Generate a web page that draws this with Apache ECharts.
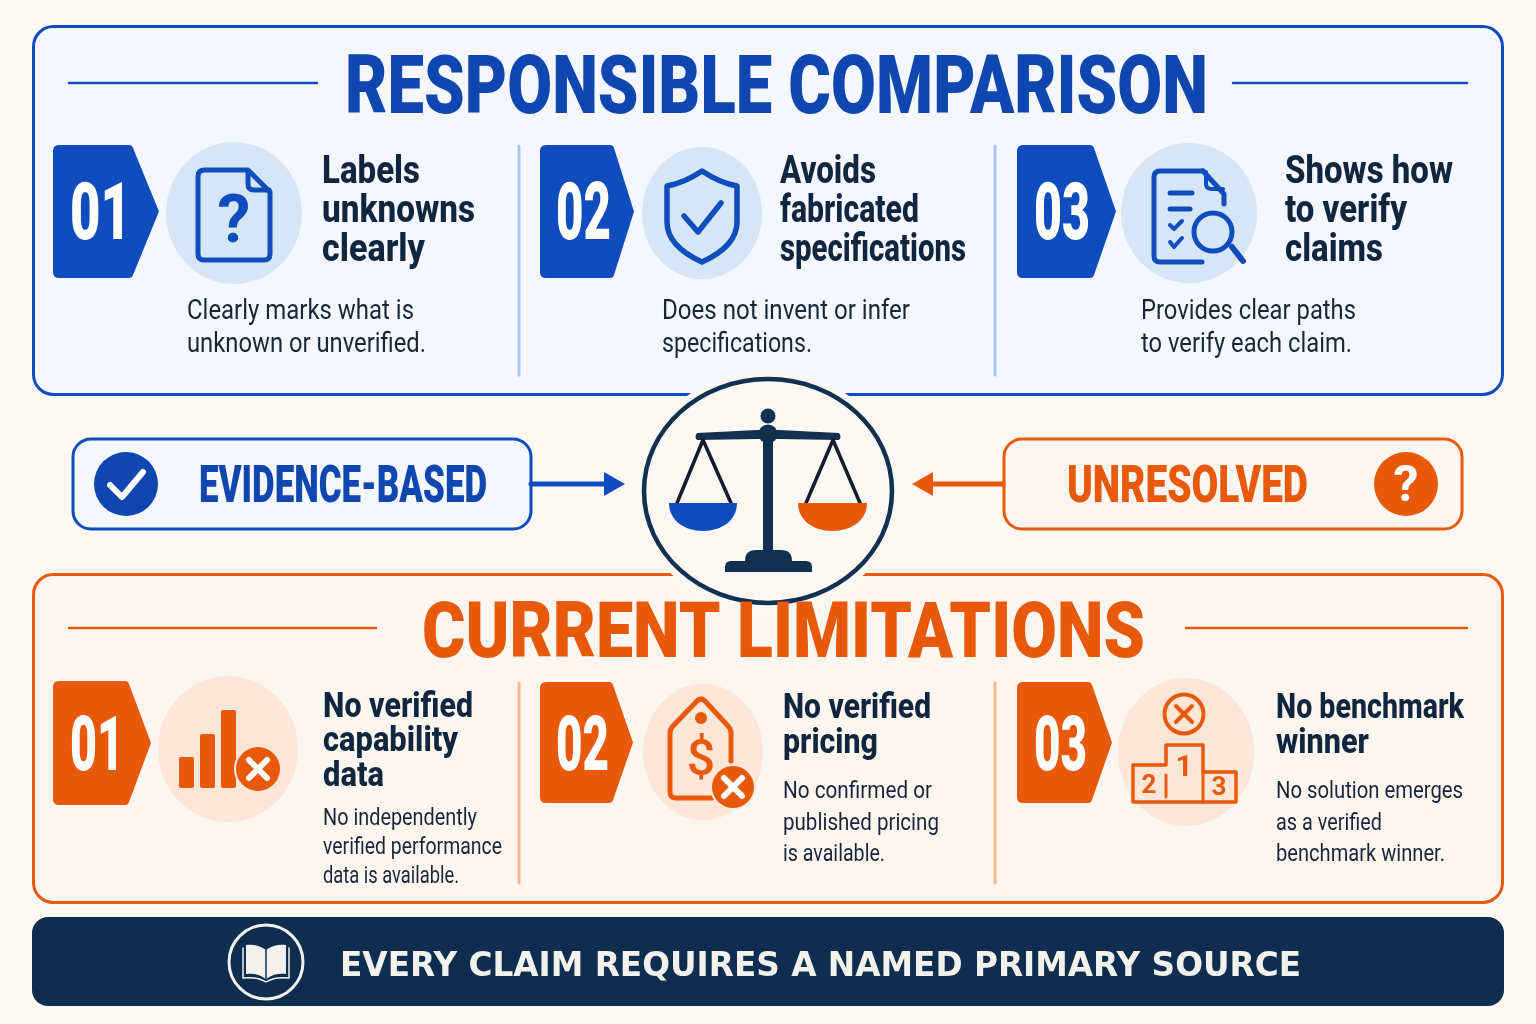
<!DOCTYPE html>
<html>
<head>
<meta charset="utf-8">
<title>Responsible comparison</title>
<script src="https://cdn.jsdelivr.net/npm/echarts@6/dist/echarts.min.js"></script>
<style>
html, body { margin: 0; padding: 0; background: #fbf8f4; }
#main { width: 1536px; height: 1024px; }
</style>
</head>
<body>
<div id="main"></div>
<script>
// texts
var stepNumbers = ['01', '02', '03'];
var topTitle = 'RESPONSIBLE COMPARISON';
var topHeads = [['Labels', 'unknowns', 'clearly'], ['Avoids', 'fabricated', 'specifications'], ['Shows how', 'to verify', 'claims']];
var topNotes = [['Clearly marks what is', 'unknown or unverified.'], ['Does not invent or infer', 'specifications.'], ['Provides clear paths', 'to verify each claim.']];
var leftBadge = 'EVIDENCE-BASED';
var rightBadge = 'UNRESOLVED';
var lowTitle = 'CURRENT LIMITATIONS';
var lowHeads = [['No verified', 'capability', 'data'], ['No verified', 'pricing'], ['No benchmark', 'winner']];
var lowNotes = [['No independently', 'verified performance', 'data is available.'], ['No confirmed or', 'published pricing', 'is available.'], ['No solution emerges', 'as a verified', 'benchmark winner.']];
var footerText = 'EVERY CLAIM REQUIRES A NAMED PRIMARY SOURCE';

// colours
var BLUE = '#0f4cbd', ORANGE = '#e8590c', NAVY = '#12304f', INK = '#10263f', BODY = '#1a2638', PAGE = '#fbf8f4';

var chart = echarts.init(document.getElementById('main'));
var els = [];
var measure = document.createElement('canvas').getContext('2d');
var pathId = 0;

// text squeezed to a width, the fonts here have no condensed cut
function text(str, x, y, size, weight, color, width, family) {
    var font = family || 'Roboto';
    measure.font = weight + ' ' + size + 'px "' + font + '"';
    var sx = width ? width / measure.measureText(str).width : 1;
    els.push({
        type: 'text', x: x, y: y + size * 0.08, scaleX: sx, silent: true,
        style: { text: str, x: 0, y: 0, fontFamily: font, fontSize: size, fontWeight: weight, fill: color, align: 'left', verticalAlign: 'middle' }
    });
}
function centerText(str, x, y, size, weight, color) {
    els.push({
        type: 'text', x: x, y: y + size * 0.08, silent: true,
        style: { text: str, x: 0, y: 0, fontFamily: 'Roboto', fontSize: size, fontWeight: weight, fill: color, align: 'center', verticalAlign: 'middle' }
    });
}
function path(d, stroke, fill, lw) {
    var name = 'shp' + (pathId++);
    echarts.graphic.registerShape(name, echarts.graphic.extendPath(d, {}));
    els.push({
        type: name, silent: true,
        style: { stroke: stroke || 'none', fill: fill || 'none', lineWidth: lw || 0, lineCap: 'round', lineJoin: 'round' }
    });
}
function rect(x, y, w, h, r, stroke, fill, lw) {
    els.push({ type: 'rect', silent: true, shape: { x: x, y: y, width: w, height: h, r: r }, style: { stroke: stroke || 'none', fill: fill || 'none', lineWidth: lw || 0 } });
}
function line(x1, y1, x2, y2, color, lw) {
    els.push({ type: 'line', silent: true, shape: { x1: x1, y1: y1, x2: x2, y2: y2 }, style: { stroke: color, lineWidth: lw, lineCap: 'round' } });
}
function circle(cx, cy, r, stroke, fill, lw) {
    els.push({ type: 'circle', silent: true, shape: { cx: cx, cy: cy, r: r }, style: { stroke: stroke || 'none', fill: fill || 'none', lineWidth: lw || 0 } });
}
function ellipse(cx, cy, rx, ry, stroke, fill, lw) {
    els.push({ type: 'ellipse', silent: true, shape: { cx: cx, cy: cy, rx: rx, ry: ry }, style: { stroke: stroke || 'none', fill: fill || 'none', lineWidth: lw || 0 } });
}
// number tag with a pointed right side
function chevron(x, y1, y2, shoulder, tip, color) {
    var mid = (y1 + y2) / 2, r = 6;
    path('M' + (x + r) + ' ' + y1 + ' H' + (shoulder - 3) + ' Q' + shoulder + ' ' + y1 + ' ' + (shoulder + 1) + ' ' + (y1 + 3) +
        ' L' + tip + ' ' + mid + ' L' + (shoulder + 1) + ' ' + (y2 - 3) + ' Q' + shoulder + ' ' + y2 + ' ' + (shoulder - 3) + ' ' + y2 +
        ' H' + (x + r) + ' Q' + x + ' ' + y2 + ' ' + x + ' ' + (y2 - r) + ' V' + (y1 + r) + ' Q' + x + ' ' + y1 + ' ' + (x + r) + ' ' + y1 + ' Z', null, color);
}
function crossBadge(cx, cy, r) {
    circle(cx, cy, r + 2, null, '#fbe9dc');
    circle(cx, cy, r, null, ORANGE);
    line(cx - 9, cy - 9, cx + 9, cy + 9, '#fff', 6);
    line(cx + 9, cy - 9, cx - 9, cy + 9, '#fff', 6);
}

// panels
rect(33.5, 26.5, 1469, 368, 20, BLUE, '#f4f7fd', 3);
rect(33.5, 574.5, 1469, 328, 20, ORANGE, '#fcf6f0', 3);
rect(32, 917, 1472, 89, 16, null, '#0f2d4e');

// top panel heading
line(69, 83, 317, 83, BLUE, 2.5);
line(1233, 83, 1467, 83, BLUE, 2.5);
text(topTitle, 345, 85.5, 82, 900, '#0f46b0', 863);

// top panel steps
var topChevrons = [[53, 132, 159], [540, 613, 634], [1017, 1093, 1116]];
var topNumbers = [[70, 61], [556, 55], [1034, 56]];
var topCircles = [[234, 213, 68, 71], [702, 213, 60, 66], [1189, 213, 68, 70]];
var topHeadX = [322, 780, 1285];
var topHeadW = [[98, 153, 103], [96, 139, 186], [168, 122, 98]];
var topNoteX = [187, 662, 1141];
var topNoteW = [[227, 239], [248, 150], [215, 211]];
var topHeadY = [170, 209, 248], topNoteY = [310, 343];
stepNumbers.forEach(function (num, i) {
    chevron(topChevrons[i][0], 145, 278, topChevrons[i][1], topChevrons[i][2], BLUE);
    text(num, topNumbers[i][0] - 0, 213, 79, 900, '#fff', topNumbers[i][1]);
    ellipse(topCircles[i][0], topCircles[i][1], topCircles[i][2], topCircles[i][3], null, '#d6e6f7');
    topHeads[i].forEach(function (s, k) { text(s, topHeadX[i], topHeadY[k], 38, 800, INK, topHeadW[i][k]); });
    topNotes[i].forEach(function (s, k) { text(s, topNoteX[i], topNoteY[k], 28, 400, BODY, topNoteW[i][k]); });
});
line(519, 146, 519, 375, '#a9c7ee', 3);
line(995, 146, 995, 375, '#a9c7ee', 3);

// document with question mark
path('M205 170 H248 L270 192 V254 Q270 260 264 260 H204 Q198 260 198 254 V176 Q198 170 205 170 Z', BLUE, null, 5);
path('M248 172 V184 Q248 190 254 190 H269', BLUE, null, 5);
centerText('?', 234, 220, 66, 700, BLUE);
// shield
path('M702 171 Q720 183 737 186 V222 Q737 246 702 262 Q667 246 667 222 V186 Q684 183 702 171 Z', BLUE, null, 5.5);
path('M684 216 L698 232 L721 203', BLUE, null, 5.5);
// checklist with magnifier
path('M1203 171 H1160 Q1154 171 1154 177 V256 Q1154 262 1160 262 H1202', BLUE, null, 5);
path('M1203 171 L1224 194 V204', BLUE, null, 5);
path('M1206 172 V184 Q1206 189 1212 189 H1223', BLUE, null, 4);
line(1170, 193, 1192, 193, BLUE, 5);
line(1170, 209, 1190, 209, BLUE, 5);
path('M1170 225 L1174 229 L1182 221', BLUE, null, 4);
path('M1170 242 L1174 247 L1182 238', BLUE, null, 4);
circle(1213, 232, 19, BLUE, '#d6e6f7', 5);
line(1232, 247, 1243, 261, BLUE, 6);

// lower panel heading
line(69, 628, 376, 628, ORANGE, 2.5);
line(1186, 628, 1467, 628, ORANGE, 2.5);

// scale in the middle, sits on top of both panels
ellipse(768, 491, 135, 119, null, PAGE);
ellipse(768, 491, 124, 112, NAVY, PAGE, 4.5);
text(lowTitle, 422, 631.5, 77, 900, ORANGE, 723);
circle(768, 416, 7.5, null, NAVY);
path('M697 433 L757 430 H779 L839 433 Q842 437 839 440 L779 439 H757 L697 440 Q694 437 697 433 Z', null, NAVY);
circle(768, 434, 9.5, null, NAVY);
rect(763, 436, 10, 118, 0, null, NAVY);
path('M745 561 Q745 550 756 550 H781 Q792 550 792 561 H806 Q812 561 812 567 V572 H725 V567 Q725 561 731 561 Z', null, NAVY);
line(703, 440, 677, 503, '#121c2a', 3.5);
line(703, 440, 731, 503, '#121c2a', 3.5);
line(833, 440, 806, 503, '#121c2a', 3.5);
line(833, 440, 860, 503, '#121c2a', 3.5);
path('M669 503 H737 C737 520 722 531 703 531 C684 531 669 520 669 503 Z', null, BLUE);
path('M798 503 H867 C867 520 852 531 832 531 C813 531 798 520 798 503 Z', null, ORANGE);

// badges either side of the scale
rect(73, 439, 458, 90, 18, BLUE, '#f4f7fd', 3);
circle(126, 484, 32, null, '#0f46b0');
path('M110 485 L122 497 L143 472', '#fff', null, 6);
text(leftBadge, 199, 485, 52, 900, '#0f46b0', 288);
line(531, 484, 606, 484, BLUE, 5);
path('M604 472 L625 484 L604 496 Z', null, BLUE);
rect(1004, 439, 458, 90, 18, ORANGE, '#fcf6f0', 3);
text(rightBadge, 1067, 485, 52, 900, ORANGE, 241);
circle(1406, 484, 32, null, ORANGE);
centerText('?', 1406, 484, 50, 700, '#fff');
line(1003, 484, 930, 484, ORANGE, 5);
path('M933 472 L912 484 L933 496 Z', null, ORANGE);

// lower panel steps
var lowChevrons = [[53, 681, 805, 128, 151], [540, 682, 803, 612, 633], [1017, 682, 803, 1091, 1112]];
var lowNumbers = [[70, 54], [556, 53], [1034, 53]];
var lowCircles = [[228, 749, 70, 73], [703, 752, 60, 68], [1186, 752, 68, 74]];
var lowHeadX = [323, 783, 1276];
var lowHeadW = [[150, 135, 61], [148, 95], [188, 93]];
var lowHeadY = [[705, 739, 774], [706, 741], [706, 741]];
var lowNoteX = [323, 783, 1276];
var lowNoteW = [[154, 179, 136], [149, 156, 102], [187, 106, 169]];
var lowNoteY = [[817, 846, 875], [790, 822, 853], [790, 822, 853]];
stepNumbers.forEach(function (num, i) {
    chevron(lowChevrons[i][0], lowChevrons[i][1], lowChevrons[i][2], lowChevrons[i][3], lowChevrons[i][4], ORANGE);
    text(num, lowNumbers[i][0], 745, 76, 900, '#fff', lowNumbers[i][1]);
    ellipse(lowCircles[i][0], lowCircles[i][1], lowCircles[i][2], lowCircles[i][3], null, '#fbe6d8');
    lowHeads[i].forEach(function (s, k) { text(s, lowHeadX[i], lowHeadY[i][k], 35, 800, INK, lowHeadW[i][k]); });
    lowNotes[i].forEach(function (s, k) { text(s, lowNoteX[i], lowNoteY[i][k], 24, 400, BODY, lowNoteW[i][k]); });
});
line(519, 683, 519, 883, '#f5b995', 3);
line(995, 683, 995, 883, '#f5b995', 3);

// bars icon
rect(179, 757, 15, 31, 2, null, ORANGE);
rect(200, 734, 15, 54, 2, null, ORANGE);
rect(221, 710, 15, 78, 2, null, ORANGE);
crossBadge(258, 769, 22);
// price tag icon
path('M712 798 H676 Q670 798 670 792 V733 Q670 729 673 726 L697 701 Q701 697 705 701 L728 726 Q731 729 731 733 V761', ORANGE, null, 5);
circle(701, 718, 6, null, ORANGE);
centerText('$', 701, 758, 50, 500, ORANGE);
crossBadge(733, 787, 21);
// podium icon
circle(1184, 714, 19.5, ORANGE, null, 4);
line(1176, 706, 1192, 722, ORANGE, 4);
line(1192, 706, 1176, 722, ORANGE, 4);
path('M1133 802 V765 H1166 V745 H1203 V772 H1236 V802 Z', ORANGE, null, 3.5);
line(1203, 772, 1203, 802, ORANGE, 3);
line(1166, 775, 1166, 797, ORANGE, 3);
centerText('1', 1184, 766, 30, 700, ORANGE);
centerText('2', 1149, 784, 26, 700, ORANGE);
centerText('3', 1219, 786, 26, 700, ORANGE);

// footer
circle(266, 962, 37, '#f3f1ec', null, 3);
path('M266 950 C260 945 252 944 246 945 V974 C252 973 260 974 266 979 C272 974 280 973 286 974 V945 C280 944 272 945 266 950 Z', null, '#f3f1ec');
line(266, 950, 266, 978, '#0f2d4e', 1.5);
path('M243 948 V978 C252 977 260 978 266 982 C272 978 280 977 289 978 V948', '#f3f1ec', null, 1.5);
text(footerText, 340, 965, 33, 700, '#f3f1ec', 961, 'DejaVu Sans');

chart.setOption({
    backgroundColor: PAGE,
    animation: false,
    graphic: { elements: els }
});
</script>
</body>
</html>
